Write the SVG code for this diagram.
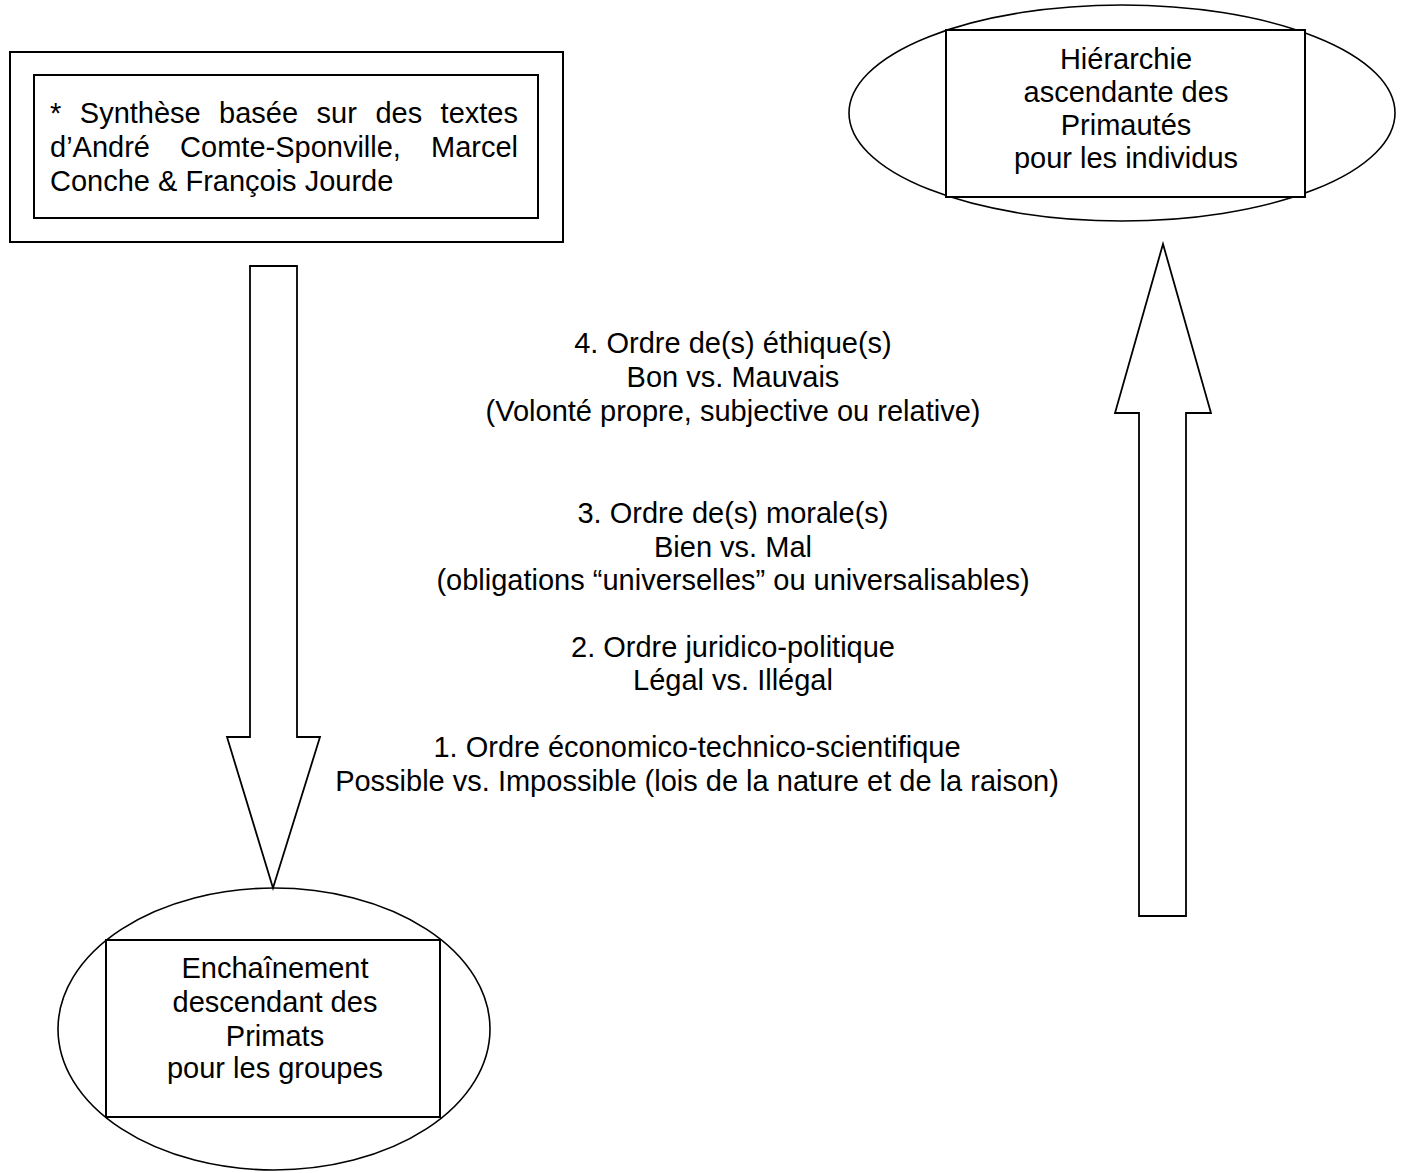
<svg xmlns="http://www.w3.org/2000/svg" width="1407" height="1173" viewBox="0 0 1407 1173">
<style>
.s{fill:#fff;stroke:#000;stroke-width:2}
.e{fill:#fff;stroke:#000;stroke-width:1.6}
.a{fill:#fff;stroke:#000;stroke-width:1.8;stroke-linejoin:miter}
text{font-family:"Liberation Sans",Arial,sans-serif;font-size:29px;fill:#000}
.c{text-anchor:middle}
</style>
<rect width="1407" height="1173" fill="#fff"/>
<g id="note">
<rect class="s" x="10" y="52" width="553" height="190"/>
<rect class="s" x="34" y="75" width="504" height="143"/>
<text y="123"><tspan x="50">*</tspan><tspan x="79.8">Synthèse</tspan><tspan x="219.1">basée</tspan><tspan x="316.6">sur</tspan><tspan x="375.4">des</tspan><tspan x="440.6">textes</tspan></text>
<text y="157"><tspan x="50">d’André</tspan><tspan x="180.1">Comte-Sponville,</tspan><tspan x="518" text-anchor="end">Marcel</tspan></text>
<text x="50" y="191">Conche &amp; François Jourde</text>
</g>
<g id="hierarchie">
<ellipse class="e" cx="1122" cy="113" rx="273" ry="108"/>
<rect class="s" x="946" y="30" width="359" height="167"/>
<text class="c" x="1126" y="69">Hiérarchie</text>
<text class="c" x="1126" y="102">ascendante des</text>
<text class="c" x="1126" y="135">Primautés</text>
<text class="c" x="1126" y="168">pour les individus</text>
</g>
<g id="enchainement">
<ellipse class="e" cx="274" cy="1029" rx="216" ry="141"/>
<rect class="s" x="106" y="940" width="334" height="177"/>
<text class="c" x="275" y="978">Enchaînement</text>
<text class="c" x="275" y="1012">descendant des</text>
<text class="c" x="275" y="1046">Primats</text>
<text class="c" x="275" y="1078">pour les groupes</text>
</g>
<g id="connectors">
<path id="down" class="a" d="M250,266 H297 V737 H320 L273,888 L227,737 H250 Z"/>
<path id="up" class="a" d="M1139,916 H1186 V413 H1211 L1163,244 L1115,413 H1139 Z"/>
</g>
<g id="orders">
<text class="c" x="733" y="353">4. Ordre de(s) éthique(s)</text>
<text class="c" x="733" y="387">Bon vs. Mauvais</text>
<text class="c" x="733" y="421">(Volonté propre, subjective ou relative)</text>
<text class="c" x="733" y="523">3. Ordre de(s) morale(s)</text>
<text class="c" x="733" y="557">Bien vs. Mal</text>
<text class="c" x="733" y="590">(obligations “universelles” ou universalisables)</text>
<text class="c" x="733" y="657">2. Ordre juridico-politique</text>
<text class="c" x="733" y="690">Légal vs. Illégal</text>
<text class="c" x="697" y="757">1. Ordre économico-technico-scientifique</text>
<text class="c" x="697" y="791">Possible vs. Impossible (lois de la nature et de la raison)</text>
</g>
</svg>
